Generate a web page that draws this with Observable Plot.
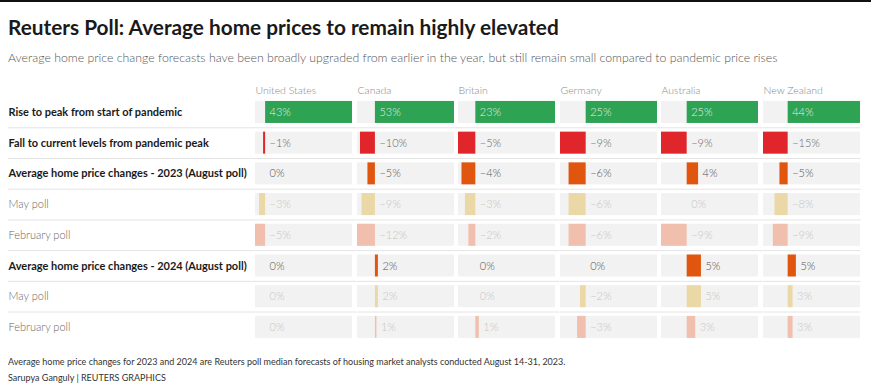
<!DOCTYPE html>
<html><head><meta charset="utf-8">
<script src="https://cdn.jsdelivr.net/npm/d3@7"></script>
<script src="https://cdn.jsdelivr.net/npm/@observablehq/plot@0.6"></script>
<style>
body{margin:0;background:#fff;font-family:Lato,sans-serif;}
#wrap{position:relative;width:871px;height:390px;border-top:2px solid #111;box-sizing:border-box;overflow:hidden;background:#fff}
.t{position:absolute;left:8px;line-height:1;white-space:nowrap}
#title{top:15px;font-size:20.8px;font-weight:700;color:#1a1a1a}
#sub{top:50px;font-size:12.3px;color:#555;font-weight:300}
#grid{position:absolute;left:0;top:74px;display:flex}
#note{top:355px;font-size:9px;color:#333}
#credit{top:371px;font-size:9px;color:#333}
</style></head>
<body>
<div id="wrap">
<div class="t" id="title">Reuters Poll: Average home prices to remain highly elevated</div>
<div class="t" id="sub">Average home price change forecasts have been broadly upgraded from earlier in the year, but still remain small compared to pandemic price rises</div>
<div id="grid"></div>
<div class="t" id="note">Average home price changes for 2023 and 2024 are Reuters poll median forecasts of housing market analysts conducted August 14-31, 2023.</div>
<div class="t" id="credit">Sarupya Ganguly | REUTERS GRAPHICS</div>
</div>
<script>
const countries = ["United States", "Canada", "Britain", "Germany", "Australia", "New Zealand"];
const rowLabels = [
  "Rise to peak from start of pandemic",
  "Fall to current levels from pandemic peak",
  "Average home price changes - 2023 (August poll)",
  "May poll ",
  "February poll ",
  "Average home price changes - 2024 (August poll)",
  "May poll",
  "February poll"
];
const boldRows = [true, true, true, false, false, true, false, false];
const unitedStates = [43, -1, 0, -3, -5, 0, 0, 0];
const canada = [53, -10, -5, -9, -12, 2, 2, 1];
const britain = [23, -5, -4, -3, -2, 0, 0, 1];
const germany = [25, -9, -6, -6, -6, 0, -2, -3];
const australia = [25, -9, 4, 0, -9, 5, 5, 3];
const newZealand = [44, -15, -5, -8, -9, 5, 3, 3];
const seriesValues = [unitedStates, canada, britain, germany, australia, newZealand];

const barColors = ["#2fa354", "#e0262b", "#e0560f", "#ead9a6", "#f1bfae", "#e0560f", "#ead9a6", "#f1bfae"];
const textColors = ["#ffffffdd", "#666", "#555", "#c6c6c6", "#c6c6c6", "#555", "#c6c6c6", "#c6c6c6"];

const step = 30.71, bandPad = 1 - 22 / step;
const mTop = 20.6, plotH = mTop + step * rowLabels.length;
const yScale = {domain: rowLabels, range: [mTop, plotH], paddingInner: bandPad, paddingOuter: bandPad / 2, round: false, axis: null};
const fmt = v => v === 0 ? "0%" : (v < 0 ? "\u2212" + Math.abs(v) : v) + "%";
const grid = document.getElementById("grid");

// label column
const labelData = rowLabels.map((r, i) => ({row: r, bold: boldRows[i]}));
grid.append(Plot.plot({
  width: 255, height: plotH, marginTop: 0, marginLeft: 0, marginRight: 0, marginBottom: 0,
  y: yScale,
  x: {axis: null},
  style: {fontFamily: "Lato", fontSize: "11px", background: "transparent"},
  marks: [
    Plot.ruleY(rowLabels.slice(0, 7), {y: d => d, dy: step / 2, stroke: "#e4e4e4", insetLeft: 8}),
    Plot.text(labelData.filter(d => d.bold), {y: "row", text: "row", frameAnchor: "left", dx: 8, textAnchor: "start", fill: "#1a1a1a", fontWeight: 700, fontSize: 11}),
    Plot.text(labelData.filter(d => !d.bold), {y: "row", text: d => d.row.trim(), frameAnchor: "left", dx: 8, textAnchor: "start", fill: "#666", fontWeight: 300, fontSize: 11})
  ]
}));

countries.forEach((c, ci) => {
  const vals = seriesValues[ci];
  const data = vals.map((v, i) => ({row: rowLabels[i], i, value: v}));
  const [lo, hi] = d3.extent(vals);
  const last = ci === countries.length - 1;
  grid.append(Plot.plot({
    width: 101.6, height: plotH, marginTop: 0, marginLeft: 0, marginRight: 0, marginBottom: 0,
    y: yScale,
    x: {domain: [lo, hi], range: [0, 97], axis: null},
    color: {type: "identity"},
    style: {fontFamily: "Lato", fontSize: "11px", background: "transparent", overflow: "visible"},
    marks: [
      Plot.ruleY(rowLabels.slice(0, 7), {y: d => d, dy: step / 2, stroke: "#e4e4e4", insetRight: last ? 4 : 0}),
      Plot.text([c], {text: d => d, frameAnchor: "top-left", dy: 10, textAnchor: "start", fill: "#888", fontWeight: 300, fontSize: 10.5}),
      Plot.barX(data, {x1: () => lo, x2: () => hi, y: "row", fill: "#f2f2f2"}),
      Plot.barX(data.filter(d => d.value !== 0), {x1: () => 0, x2: "value", y: "row", fill: d => barColors[d.i]}),
      Plot.text(data, {x: d => d.i === 0 ? 0 : Math.max(d.value, 0), y: "row", text: d => fmt(d.value), dx: 4, textAnchor: "start", fill: d => textColors[d.i], fontWeight: 300, fontSize: 11})
    ]
  }));
});
</script>
</body></html>
